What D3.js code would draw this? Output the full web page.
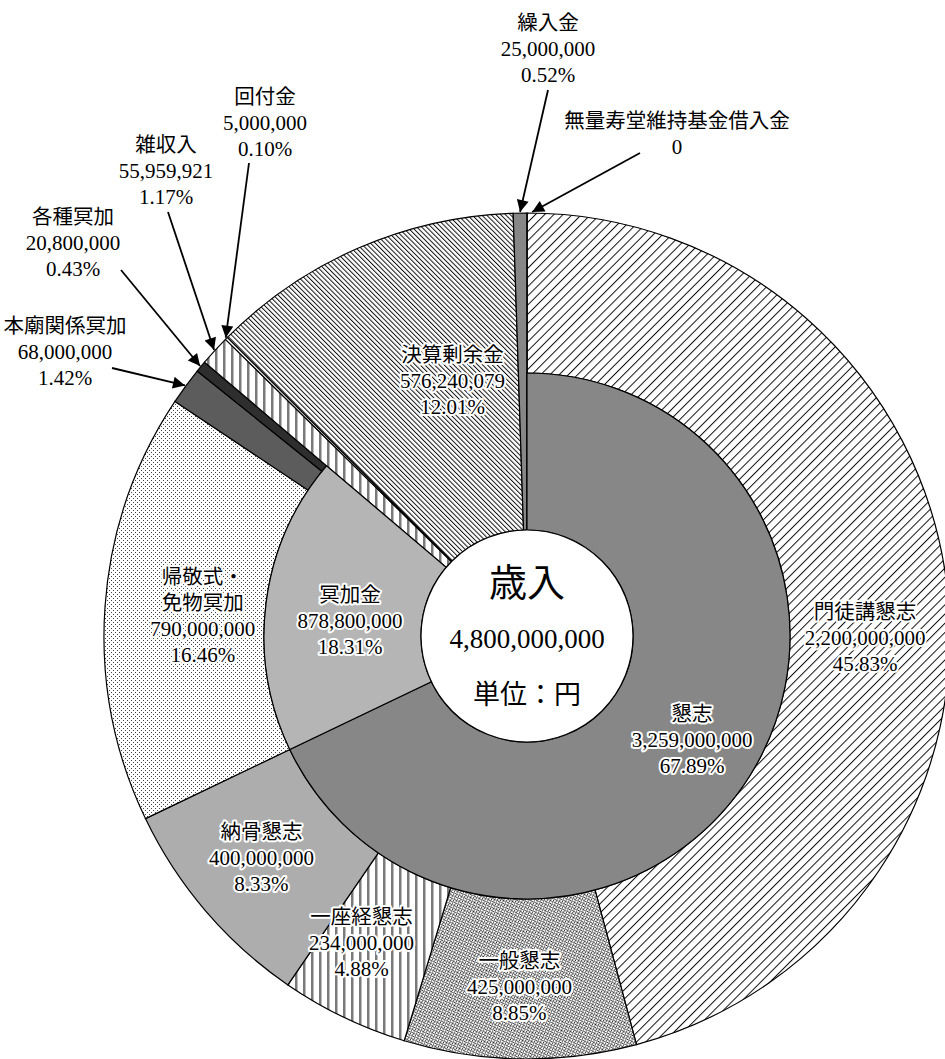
<!DOCTYPE html>
<html>
<head>
<meta charset="utf-8">
<script src="https://cdn.jsdelivr.net/npm/d3@7"></script>
<style>
  body { margin: 0; background: #fff; }
  text { font-family: "Liberation Serif", "DejaVu Serif", "Noto Sans CJK JP", serif; fill: #000; }
  .halo { paint-order: stroke; stroke: #fff; stroke-width: 4px; stroke-linejoin: round; }
</style>
</head>
<body>
<svg id="chart" width="945" height="1059"></svg>
<script>
// data
var total = 4800000000;
var outerNames = ["門徒講懇志", "一般懇志", "一座経懇志", "納骨懇志", "帰敬式・|免物冥加", "本廟関係冥加",
  "各種冥加", "雑収入", "回付金", "決算剰余金", "繰入金", "無量寿堂維持基金借入金"];
var outerValues = [2200000000, 425000000, 234000000, 400000000, 790000000, 68000000,
  20800000, 55959921, 5000000, 576240079, 25000000, 0];
var outerPcts = ["45.83%", "8.85%", "4.88%", "8.33%", "16.46%", "1.42%",
  "0.43%", "1.17%", "0.10%", "12.01%", "0.52%", ""];
var outerGroup = ["懇志", "懇志", "懇志", "懇志", "冥加金", "冥加金", "冥加金", "", "", "", "", ""];
var innerNames = ["懇志", "冥加金"];
var innerValues = [3259000000, 878800000];
var innerPcts = ["67.89%", "18.31%"];

// look
var fills = ["url(#pMonto)", "url(#pIppan)", "url(#pVert)", "#adadad", "url(#pDots)", "#5c5c5c",
  "#2e2e2e", "url(#pVert)", "#fff", "url(#pKessan)", "#878787", "#fff"];
var innerFills = ["#878787", "#b5b5b5"];
// label placement: inside -> nudge from centroid, outside -> text anchor + arrow start
var outerLabel = [
  {nudge: [-2, 47]}, {nudge: [-2, 8]}, {nudge: [-17, -2]}, {nudge: [-5, -1]}, {nudge: [18, 4]},
  {out: [65, 326], from: [112, 368]},
  {out: [73, 217], from: [121, 270]},
  {out: [166, 145], from: [168, 212]},
  {out: [265, 97], from: [249, 163]},
  {nudge: [31, -12]},
  {out: [548, 23], from: [548, 90]},
  {out: [677, 121], from: [640, 153]}
];
var innerLabel = [{nudge: [9, 6]}, {nudge: [6, 9]}];

var cx = 527, cy = 636, R = 423, Rmid = 263, Rhole = 106, lh = 26;

var svg = d3.select("#chart");
var defs = svg.append("defs");

function linePattern(id, size, angle, color, w) {
  var p = defs.append("pattern").attr("id", id)
    .attr("patternUnits", "userSpaceOnUse")
    .attr("width", size).attr("height", size)
    .attr("patternTransform", "rotate(" + angle + ")");
  p.append("rect").attr("width", size).attr("height", size).attr("fill", "#fff");
  p.append("rect").attr("width", w).attr("height", size).attr("fill", color);
}
linePattern("pMonto", 6.5, 45, "#111", 1);
linePattern("pKessan", 3.4, -45, "#111", 1);
linePattern("pVert", 8, 0, "#7a7a7a", 2.5);

var pI = defs.append("pattern").attr("id", "pIppan")
  .attr("patternUnits", "userSpaceOnUse").attr("width", 4).attr("height", 4)
  .attr("patternTransform", "rotate(-20)");
pI.append("rect").attr("width", 4).attr("height", 4).attr("fill", "#fff");
[[0, 3], [1, 2], [2, 1], [3, 0], [0, 1], [2, 3]].forEach(function(c) {
  pI.append("rect").attr("x", c[0]).attr("y", c[1]).attr("width", 1).attr("height", 1).attr("fill", "#222");
});

var pD = defs.append("pattern").attr("id", "pDots")
  .attr("patternUnits", "userSpaceOnUse").attr("width", 4).attr("height", 4);
pD.append("rect").attr("width", 4).attr("height", 4).attr("fill", "#fff");
pD.append("rect").attr("x", 0).attr("y", 0).attr("width", 1).attr("height", 1).attr("fill", "#444");
pD.append("rect").attr("x", 2).attr("y", 2).attr("width", 1).attr("height", 1).attr("fill", "#444");

defs.append("marker").attr("id", "arrow")
  .attr("viewBox", "0 0 10 10").attr("refX", 10).attr("refY", 5)
  .attr("markerUnits", "userSpaceOnUse")
  .attr("markerWidth", 14).attr("markerHeight", 12)
  .attr("orient", "auto")
  .append("path").attr("d", "M0,0 L10,5 L0,10 Z").attr("fill", "#000");

var g = svg.append("g").attr("transform", "translate(" + cx + "," + cy + ")");

var pie = d3.pie().sort(null).value(function(d) { return d; });
var outerArcs = pie(outerValues);
var innerArcs = pie(innerValues.concat([total - d3.sum(innerValues)])).slice(0, innerNames.length);

var arcFor = function(d, i) {
  var r0 = outerGroup[i] ? Rmid : Rhole;
  return d3.arc().innerRadius(r0).outerRadius(R)(d);
};

g.selectAll("path.outer")
  .data(outerArcs)
  .enter().append("path")
  .attr("class", "outer")
  .attr("d", arcFor)
  .attr("fill", function(d, i) { return fills[i]; })
  .attr("stroke", "#000")
  .attr("stroke-width", 1.2);

var innerArc = d3.arc().innerRadius(Rhole).outerRadius(Rmid);
g.selectAll("path.inner")
  .data(innerArcs)
  .enter().append("path")
  .attr("class", "inner")
  .attr("d", innerArc)
  .attr("fill", function(d, i) { return innerFills[i]; })
  .attr("stroke", "#000")
  .attr("stroke-width", 1.2);

g.append("circle").attr("r", Rhole).attr("fill", "#fff").attr("stroke", "#000").attr("stroke-width", 1.2);

var fmt = d3.format(",");

// lines: [text, isName]
function block(x, y, lines, cls) {
  var t = svg.append("text")
    .attr("class", cls)
    .attr("text-anchor", "middle");
  lines.forEach(function(s, k) {
    t.append("tspan").attr("x", x)
      .attr("y", y + (k - (lines.length - 1) / 2) * lh)
      .attr("dominant-baseline", "central")
      .attr("font-size", s[1] ? 20.5 : 21)
      .text(s[0]);
  });
}

function linesOf(name, v, pct) {
  var ls = name.split("|").map(function(s) { return [s, true]; });
  ls.push([fmt(v), false]);
  if (pct) ls.push([pct, false]);
  return ls;
}

// inner ring labels
innerArcs.forEach(function(d, i) {
  var c = innerArc.centroid(d);
  var n = innerLabel[i].nudge;
  block(cx + c[0] + n[0], cy + c[1] + n[1], linesOf(innerNames[i], innerValues[i], innerPcts[i]), "halo");
});

// outer ring labels
outerArcs.forEach(function(d, i) {
  var L = outerLabel[i];
  var lines = linesOf(outerNames[i], outerValues[i], outerPcts[i]);
  if (L.nudge) {
    var r0 = outerGroup[i] ? Rmid : Rhole;
    var c = d3.arc().innerRadius(r0).outerRadius(R).centroid(d);
    block(cx + c[0] + L.nudge[0], cy + c[1] + L.nudge[1], lines, "halo");
  } else {
    var top = L.out[1] + (lines.length - 1) / 2 * lh;
    block(L.out[0], top, lines, "");
    var a = (d.startAngle + d.endAngle) / 2;
    if (d.value === 0) a = d.startAngle + 0.012;
    var tip = [cx + (R + 1) * Math.sin(a), cy - (R + 1) * Math.cos(a)];
    svg.append("line")
      .attr("x1", L.from[0]).attr("y1", L.from[1])
      .attr("x2", tip[0]).attr("y2", tip[1])
      .attr("stroke", "#000").attr("stroke-width", 1.8)
      .attr("marker-end", "url(#arrow)");
  }
});

// centre
svg.append("text").attr("x", cx).attr("y", 583).attr("text-anchor", "middle")
  .attr("dominant-baseline", "central").attr("font-size", 38).text("歳入");
svg.append("text").attr("x", cx).attr("y", 639).attr("text-anchor", "middle")
  .attr("dominant-baseline", "central").attr("font-size", 27).text(fmt(total));
svg.append("text").attr("x", cx).attr("y", 695).attr("text-anchor", "middle")
  .attr("dominant-baseline", "central").attr("font-size", 27).text("単位：円");
</script>
</body>
</html>
